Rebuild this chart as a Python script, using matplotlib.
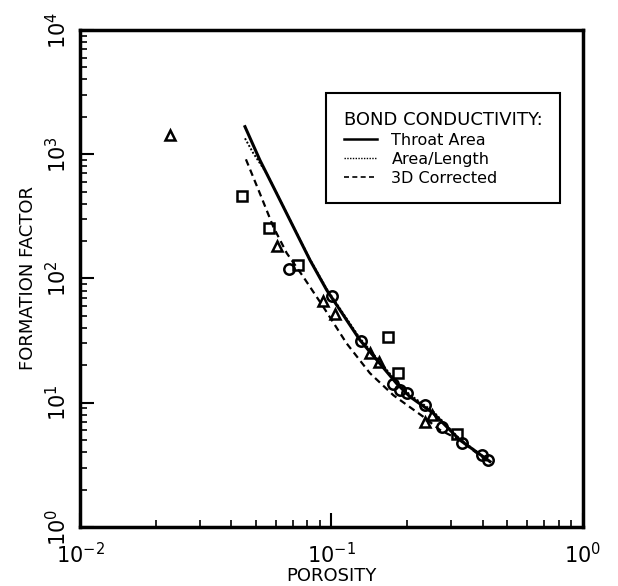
import matplotlib
matplotlib.use("Agg")
import matplotlib.pyplot as plt
from matplotlib.lines import Line2D

# Model curves.
throat_x = [0.0453, 0.0519, 0.0605, 0.0705, 0.0821, 0.0957, 0.1297, 0.1535,
            0.1815, 0.205, 0.254, 0.324, 0.427]
throat_y = [1667, 899, 485, 261, 141, 80.8, 32.0, 21.4, 14.3, 11.2, 8.23,
            5.01, 3.36]

arealen_x = [0.0453, 0.0489, 0.0552, 0.0605, 0.0705, 0.0821, 0.0957, 0.1297,
             0.1535, 0.1815, 0.205, 0.254, 0.324, 0.427]
arealen_y = [1343, 1018, 703, 487, 263, 143, 82.5, 33.0, 22.1, 14.8, 11.6,
             8.5, 5.1, 3.36]

corr_x = [0.0457, 0.0519, 0.0587, 0.0664, 0.0773, 0.0927, 0.1148, 0.1422,
          0.1762, 0.2317, 0.270, 0.324, 0.415]
corr_y = [910, 485, 261, 160, 103, 59.3, 30.1, 17.3, 11.5, 7.72, 6.04,
          5.01, 3.4]

# Measured data points.
sq_x = [0.0441, 0.0564, 0.0736, 0.168, 0.184, 0.316]
sq_y = [461, 255, 128, 33.8, 17.3, 5.6]

tri_x = [0.0228, 0.0607, 0.0923, 0.1033, 0.142, 0.1546, 0.2356, 0.250]
tri_y = [1429, 183, 66.3, 51.8, 25.3, 21.4, 7.03, 7.97]

circ_x = [0.0678, 0.1002, 0.1306, 0.175, 0.187, 0.199, 0.2356, 0.274, 0.330,
          0.395, 0.421]
circ_y = [119, 72.7, 31.6, 14.2, 12.7, 11.9, 9.6, 6.41, 4.74, 3.8, 3.46]

fig = plt.figure(figsize=(6.18, 5.86), dpi=100)
ax = fig.add_axes([0.1294, 0.1007, 0.8139, 0.8481])

ax.plot(throat_x, throat_y, color='k', lw=2.2, ls='-')
ax.plot(arealen_x, arealen_y, color='k', lw=1.4, ls=(0, (1, 1)))
ax.plot(corr_x, corr_y, color='k', lw=1.6, ls=(0, (3, 2)))

mk = dict(ls='none', mfc='none', mec='k', mew=1.8, ms=7.5)
ax.plot(sq_x, sq_y, marker='s', **mk)
ax.plot(tri_x, tri_y, marker='^', **mk)
ax.plot(circ_x, circ_y, marker='o', **mk)

ax.set_xscale('log')
ax.set_yscale('log')
ax.set_xlim(1e-2, 1e0)
ax.set_ylim(1e0, 1e4)

for s in ax.spines.values():
    s.set_linewidth(2.5)
ax.tick_params(which='both', direction='in', top=False, right=False)
ax.tick_params(which='major', length=10, width=1.5, labelsize=15)
ax.tick_params(which='minor', length=5, width=1.2)
ax.tick_params(axis='x', pad=11)
ax.tick_params(axis='y', labelrotation=90, pad=7)
for t in ax.get_yticklabels():
    t.set_va('center')

ax.set_xlabel('POROSITY', fontsize=13, labelpad=0)
ax.set_ylabel('FORMATION FACTOR', fontsize=13, labelpad=6)

handles = [Line2D([], [], color='k', lw=1.8, ls='-'),
           Line2D([], [], color='k', lw=1.0, ls=(0, (1, 1))),
           Line2D([], [], color='k', lw=1.2, ls=(0, (3, 2)))]
leg = ax.legend(handles, ['Throat Area', 'Area/Length', '3D Corrected'],
                title='BOND CONDUCTIVITY:', loc='upper right',
                bbox_to_anchor=(0.954, 0.873), borderaxespad=0,
                fontsize=11.5, title_fontsize=13, alignment='left',
                fancybox=False, edgecolor='k', framealpha=1,
                handlelength=2.1, handletextpad=0.9,
                borderpad=1.1, labelspacing=0.25)
leg.get_frame().set_linewidth(1.5)

fig.savefig('out.png', dpi=100)
